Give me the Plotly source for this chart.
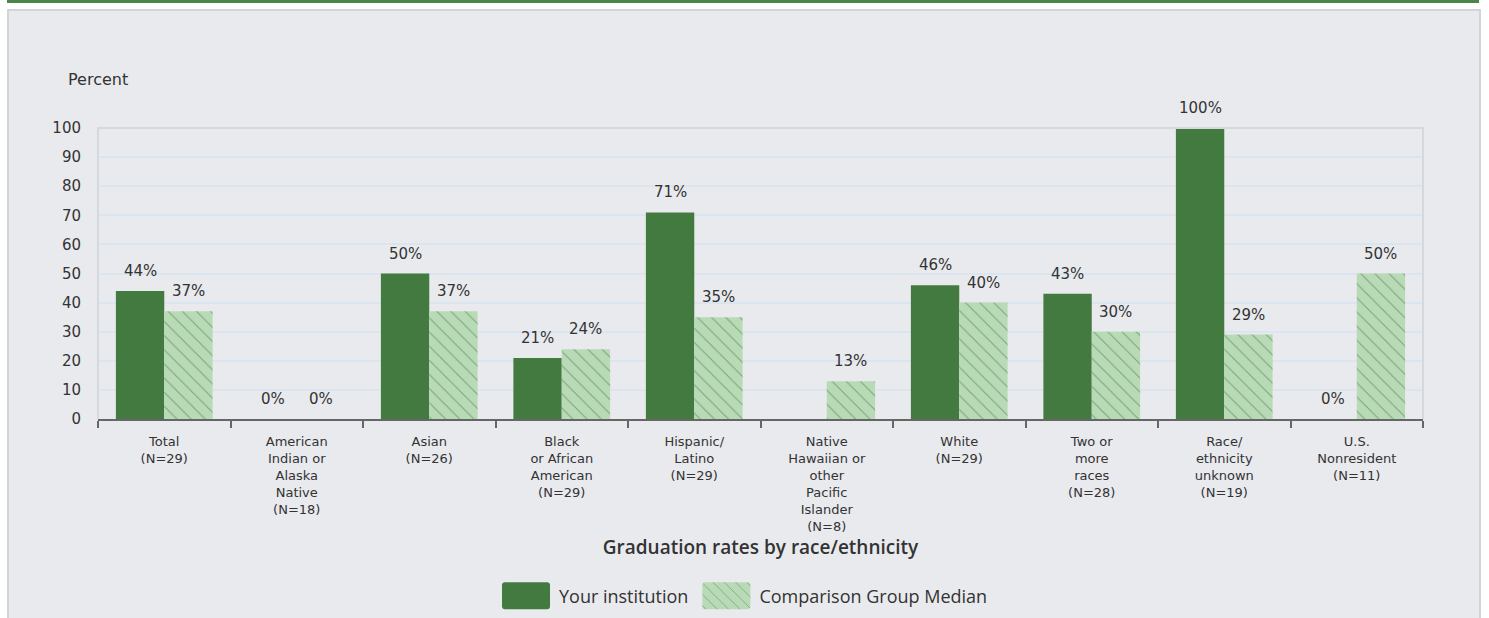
import plotly.graph_objects as go

categories = [
    "Total<br>(N=29)",
    "American<br>Indian or<br>Alaska<br>Native<br>(N=18)",
    "Asian<br>(N=26)",
    "Black<br>or African<br>American<br>(N=29)",
    "Hispanic/<br>Latino<br>(N=29)",
    "Native<br>Hawaiian or<br>other<br>Pacific<br>Islander<br>(N=8)",
    "White<br>(N=29)",
    "Two or<br>more<br>races<br>(N=28)",
    "Race/<br>ethnicity<br>unknown<br>(N=19)",
    "U.S.<br>Nonresident<br>(N=11)",
]
your_institution = [44, 0, 50, 21, 71, None, 46, 43, 100, 0]
comparison_median = [37, 0, 37, 24, 35, 13, 40, 30, 29, 50]
y_ticks = [0, 10, 20, 30, 40, 50, 60, 70, 80, 90, 100]

W, H = 1489, 618
L, R, T, B = 98, 66, 128, 199
PW, PH = W - L - R, H - T - B
BARGAP = 0.27


def px(x):
    return (x - L) / PW


def py(y):
    return (H - B - y) / PH


DARK = "#437a3f"
LIGHT = "#b9dab6"
TXT = "#333333"
VFONT = dict(family="DejaVu Sans", size=15, color=TXT)

fig = go.Figure()
fig.add_trace(go.Bar(
    name="Your institution", x=categories, y=your_institution,
    marker=dict(color=DARK, line=dict(width=0)), hoverinfo="skip",
))
fig.add_trace(go.Bar(
    name="Comparison Group Median", x=categories, y=comparison_median,
    marker=dict(color=LIGHT, line=dict(width=0),
                pattern=dict(shape="\\", fgcolor="#3d7a3a", bgcolor=LIGHT,
                             size=10, solidity=0.1, fgopacity=0.55)),
    hoverinfo="skip",
))

# value labels above each bar (offset by half a bar width within the group)
half_bar_px = PW / len(categories) * (1 - BARGAP) / 4
annotations = []
for series, sign in ((your_institution, -1), (comparison_median, 1)):
    for cat, v in zip(categories, series):
        if v is None:
            continue
        annotations.append(dict(
            x=cat, y=v, xref="x", yref="y", text=f"{v}%", showarrow=False,
            xanchor="center", yanchor="bottom", xshift=sign * half_bar_px,
            yshift=9, font=VFONT))

annotations.append(dict(
    text="Percent", xref="paper", yref="paper", x=px(66), y=py(80),
    xanchor="left", yanchor="middle", showarrow=False,
    font=dict(family="DejaVu Sans", size=16, color=TXT)))

shapes = [
    dict(type="rect", xref="paper", yref="paper", layer="below",
         x0=px(8), x1=px(1480), y0=py(640), y1=py(10),
         fillcolor="#e9eaee", line=dict(color="#d3d4d8", width=2)),
    dict(type="rect", xref="paper", yref="paper", layer="below",
         x0=px(7), x1=px(1479), y0=py(3), y1=py(0),
         fillcolor="#4a854a", line=dict(width=0)),
    dict(type="path", xref="paper", yref="paper", layer="above",
         path="M 0 0 L 0 1 L 1 1 L 1 0",
         line=dict(color="#d6d8dc", width=2)),
]

fig.update_layout(
    width=W, height=H,
    margin=dict(l=L, r=R, t=T, b=B, autoexpand=False),
    paper_bgcolor="white",
    plot_bgcolor="#f4f4f4",
    barmode="group",
    bargap=BARGAP,
    bargroupgap=0,
    font=dict(family="DejaVu Sans", color=TXT),
    shapes=shapes,
    annotations=annotations,
    showlegend=True,
    legend=dict(orientation="h", x=px(743), xanchor="center",
                yref="container", y=1 - 596 / H, yanchor="middle",
                bgcolor="rgba(0,0,0,0)",
                font=dict(family="Open Sans", size=18, color=TXT),
                itemwidth=56, traceorder="normal"),
    xaxis=dict(
        tickson="boundaries", ticks="outside", ticklen=7, tickcolor="#666666",
        tickwidth=1.5, showline=True, linecolor="#666666", linewidth=1.5,
        ticklabelstandoff=10, automargin=False,
        tickfont=dict(family="DejaVu Sans", size=13, color=TXT),
        title=dict(text="Graduation rates by race/ethnicity", standoff=1,
                   font=dict(family="Open Sans", size=19, color=TXT, weight=600)),
        showgrid=False, fixedrange=True,
    ),
    yaxis=dict(
        range=[0, 100], tickvals=y_ticks, showgrid=True, gridcolor="#dbe5ef",
        gridwidth=1.5, zeroline=False, ticks="", ticklabelstandoff=16,
        automargin=False,
        tickfont=dict(family="DejaVu Sans", size=15, color=TXT),
        showline=False, fixedrange=True,
    ),
)

post = """
document.body.style.margin = '0';
var gd = document.getElementById('{plot_id}');
function swatches() {
  gd.querySelectorAll('.legend .legendpoints path').forEach(function (p) {
    p.setAttribute('d', 'M-21,-13.5H21A3,3 0 0 1 24,-10.5V10.5A3,3 0 0 1 21,13.5H-21A3,3 0 0 1 -24,10.5V-10.5A3,3 0 0 1 -21,-13.5Z');
  });
}
swatches();
gd.on('plotly_afterplot', swatches);
"""

fig.write_html("out.html", post_script=post, config={"displayModeBar": False})
